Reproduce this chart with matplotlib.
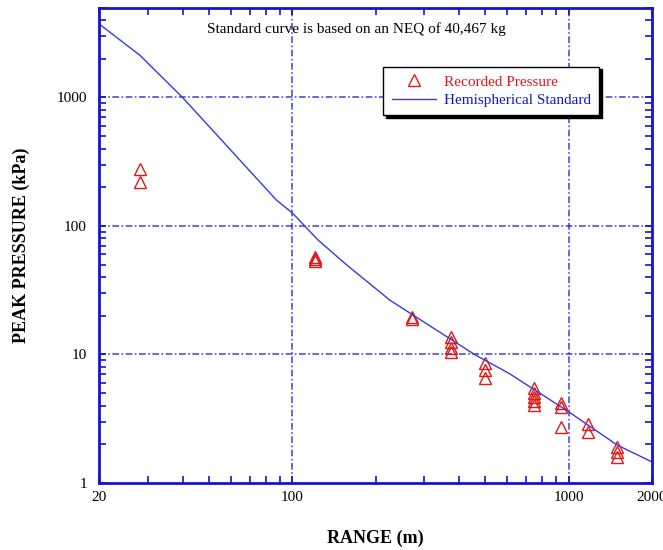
import matplotlib
matplotlib.use("Agg")
import matplotlib.pyplot as plt
from matplotlib.ticker import LogLocator, FixedLocator, FixedFormatter, NullFormatter

plt.rcParams['font.family'] = ['Liberation Serif', 'DejaVu Serif']

# recorded peak pressures (range m, pressure kPa)
rec_range = [28, 28,
             121, 121, 121,
             271, 271,
             374, 374, 374, 374,
             500, 500, 500,
             752, 752, 752, 752, 752,
             939, 939, 939,
             1178, 1178,
             1492, 1492, 1492]
rec_pressure = [280, 218,
                57, 55, 53,
                19.5, 18.8,
                13.7, 12.4, 11.3, 10.5,
                8.5, 7.55, 6.5,
                5.44, 5.0, 4.68, 4.35, 4.03,
                4.16, 3.87, 2.70,
                2.85, 2.5,
                1.89, 1.73, 1.6]

# hemispherical standard curve
std_range = [20, 28, 40, 87.5, 100, 124, 155, 225, 456, 610, 1000, 1500, 2000]
std_pressure = [3720, 2135, 1000, 159, 126, 77.5, 51, 26.5, 10, 7.1, 3.58, 1.97, 1.46]

x_ticks = [20, 100, 1000, 2000]
y_ticks = [1, 10, 100, 1000]

blue = '#1414d2'
red = '#e01818'

fig = plt.figure(figsize=(6.63, 5.5), dpi=100)
ax = fig.add_axes([0.150, 0.122, 0.833, 0.864])

ax.plot(rec_range, rec_pressure, linestyle='none', marker='^', markersize=8,
        markerfacecolor='none', markeredgecolor=red, markeredgewidth=1.0,
        label='Recorded Pressure')
ax.plot(std_range, std_pressure, color='#3a3ad8', linewidth=1.0,
        label='Hemispherical Standard')

ax.set_xscale('log')
ax.set_yscale('log')
ax.set_xlim(20, 2000)
ax.set_ylim(1, 5000)

ax.xaxis.set_major_locator(FixedLocator(x_ticks))
ax.xaxis.set_major_formatter(FixedFormatter([str(t) for t in x_ticks]))
ax.xaxis.set_minor_locator(LogLocator(base=10, subs=range(2, 10)))
ax.xaxis.set_minor_formatter(NullFormatter())
ax.yaxis.set_major_locator(FixedLocator(y_ticks))
ax.yaxis.set_major_formatter(FixedFormatter([str(t) for t in y_ticks]))
ax.yaxis.set_minor_locator(LogLocator(base=10, subs=range(2, 10)))
ax.yaxis.set_minor_formatter(NullFormatter())

ax.tick_params(which='both', direction='in', top=True, right=True,
               color=blue, width=1.2, labelsize=11)
ax.tick_params(which='major', length=5)
ax.tick_params(which='minor', length=5)
ax.tick_params(axis='y', which='major', pad=9)
ax.tick_params(axis='x', which='major', pad=6)

for s in ax.spines.values():
    s.set_color(blue)
    s.set_linewidth(2)

# gridlines only at the decades
for gx in [100, 1000]:
    ax.axvline(gx, color=blue, linewidth=1.2, linestyle=(0, (4, 1.5, 1, 1.5)),
               alpha=0.75, zorder=0)
for gy in [10, 100, 1000]:
    ax.axhline(gy, color=blue, linewidth=1.2, linestyle=(0, (4, 1.5, 1, 1.5)),
               alpha=0.75, zorder=0)

ax.text(0.466, 0.955, 'Standard curve is based on an NEQ of 40,467 kg',
        transform=ax.transAxes, ha='center', va='center', fontsize=11)

ax.set_xlabel('RANGE (m)', fontsize=13, fontweight='bold', labelpad=18)
ax.set_ylabel('PEAK PRESSURE (kPa)', fontsize=13, fontweight='bold', labelpad=19)

leg = ax.legend(loc='upper left', bbox_to_anchor=(0.500, 0.892), fontsize=11,
                fancybox=False, edgecolor='black', framealpha=1,
                shadow={'color': 'black', 'alpha': 1},
                handlelength=2.9, handletextpad=0.5, labelspacing=0.3,
                borderpad=0.55)
leg.get_frame().set_linewidth(1.0)
leg.get_texts()[0].set_color(red)
leg.get_texts()[1].set_color(blue)

fig.savefig('out.png', dpi=100)
